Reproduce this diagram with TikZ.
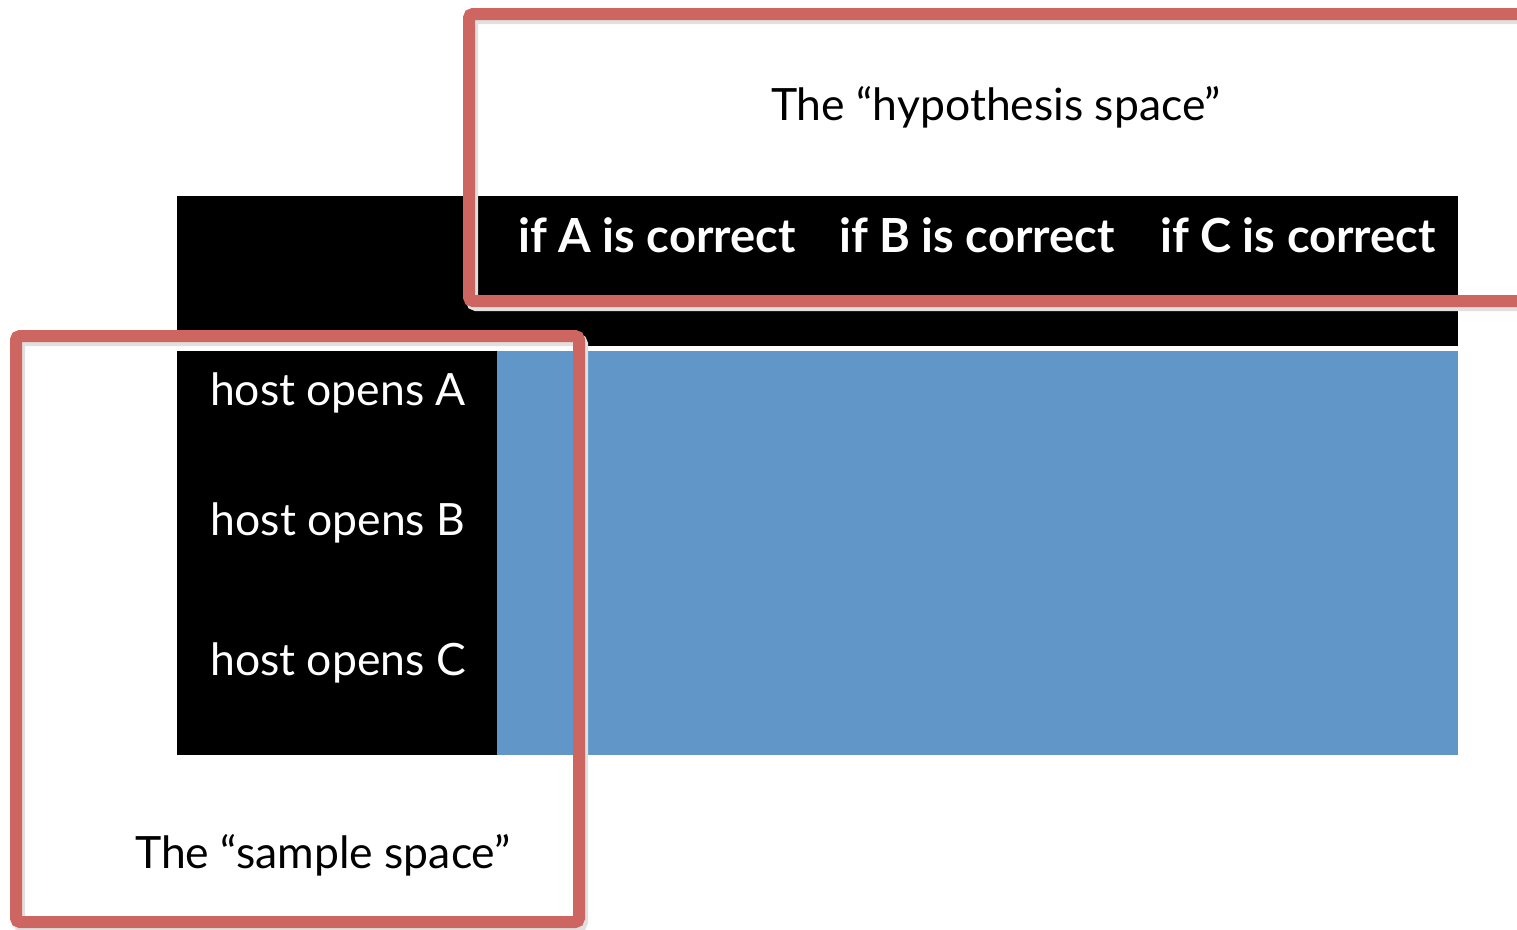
\documentclass[tikz,border=0pt]{standalone}
\usepackage{fontspec}
\setmainfont{Lato}
\definecolor{boxred}{RGB}{205,102,96}
\definecolor{cellblue}{RGB}{96,150,200}
\begin{document}
\begin{tikzpicture}[x=1pt,y=-1pt,
  redbox/.style={draw=boxred,line width=12pt,rounded corners=4pt},
  shadowbox/.style={draw=black!12,line width=12pt,rounded corners=4pt},
  hdr/.style={text=white,font=\fontsize{47}{56}\selectfont\bfseries,anchor=base,inner sep=0pt},
  rowlbl/.style={text=white,font=\fontsize{44.5}{52}\selectfont,anchor=base,inner sep=0pt},
  caption/.style={text=black,font=\fontsize{44.5}{52}\selectfont,anchor=base,inner sep=0pt}]
\useasboundingbox (0,0) rectangle (1517,929);
\begin{scope}
\clip (0,0) rectangle (1517,929);
% table
\fill[black] (177,196) rectangle (1458,755);
\fill[white] (177,346) rectangle (1458,351);
\fill[cellblue] (497,351) rectangle (1458,755);
% header texts
\node[hdr] (ha) at (657,252) {if A is correct};
\node[hdr] (hb) at (977,252) {if B is correct};
\node[hdr] (hc) at (1298,252) {if C is correct};
% row labels
\node[rowlbl] (ra) at (338,405) {host opens A};
\node[rowlbl] (rb) at (338,535) {host opens B};
\node[rowlbl] (rc) at (338,675) {host opens C};
% highlight boxes
\draw[shadowbox] (472,18) rectangle (1528,305);
\draw[redbox] (469,14) rectangle (1525,301);
\draw[shadowbox] (19,340) rectangle (582,926);
\draw[redbox] (16,336) rectangle (579,922);
% captions
\node[caption] (hyp) at (996,120) {The “hypothesis space”};
\node[caption] (smp) at (323,868) {The “sample space”};
\end{scope}
\end{tikzpicture}
\end{document}
